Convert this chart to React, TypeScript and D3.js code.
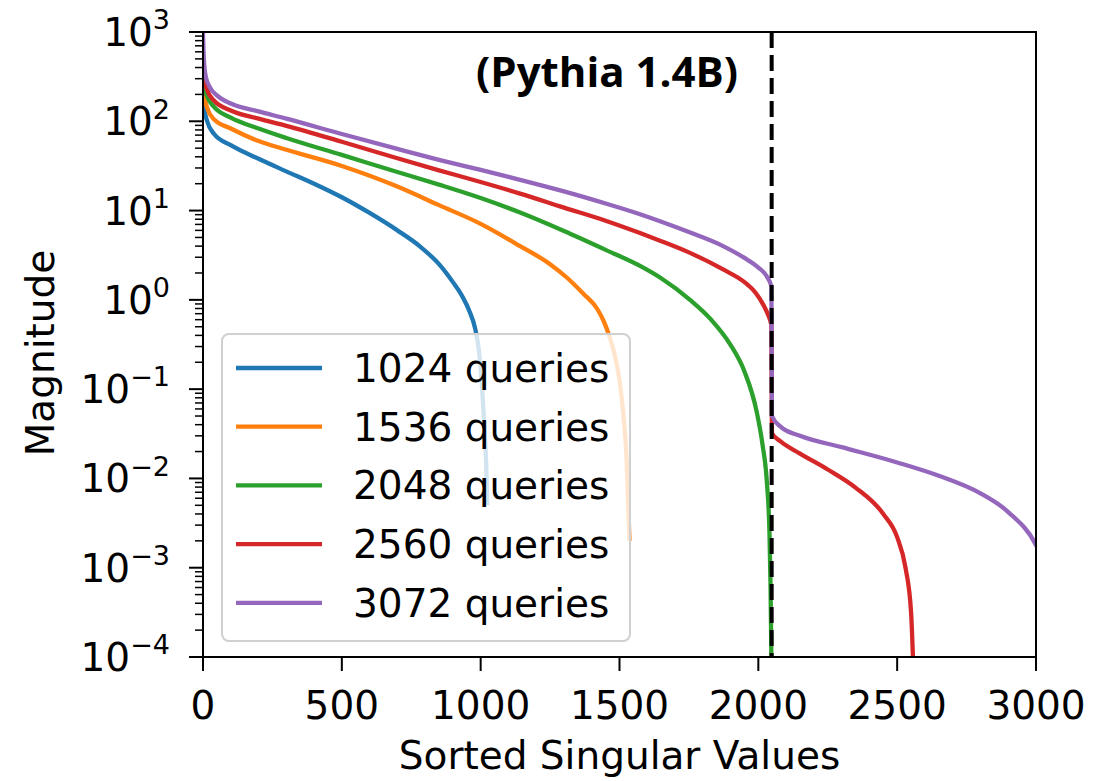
import * as d3 from 'd3';

type Pt = [number, number];

// sorted singular values (index, magnitude)
const q1024: Pt[] = [
  [0, 251], [5, 141], [15, 100], [40, 72], [100, 54], [200, 38], [300, 27.5], [400, 20],
  [500, 14.1], [600, 9.4], [700, 6.0], [780, 4.0], [850, 2.51], [900, 1.58], [930, 1.15],
  [960, 0.74], [980, 0.48], [995, 0.25], [1005, 0.105], [1013, 0.04], [1020, 0.0141],
  [1024, 0.005],
];
const q1536: Pt[] = [
  [0, 316], [5, 200], [15, 141], [40, 105], [100, 83], [200, 60], [300, 48], [500, 31.6],
  [700, 18.6], [850, 11.5], [1000, 7.1], [1142, 4.0], [1250, 2.51], [1310, 1.78], [1370, 1.17],
  [1420, 0.79], [1445, 0.56], [1465, 0.38], [1480, 0.263], [1500, 0.126], [1513, 0.056],
  [1525, 0.0178], [1536, 0.002],
];
const q2048: Pt[] = [
  [0, 400], [5, 251], [15, 190], [40, 145], [100, 110], [200, 83], [300, 65], [500, 42],
  [700, 27], [850, 19.5], [1000, 13.8], [1142, 9.5], [1300, 5.9], [1450, 3.63], [1574, 2.4],
  [1646, 1.78], [1754, 1.0], [1830, 0.6], [1898, 0.32], [1950, 0.158], [1994, 0.056],
  [2015, 0.024], [2031, 0.0089], [2040, 0.0025], [2044, 0.00063], [2048, 0.00005],
];
const q2560: Pt[] = [
  [0, 500], [5, 316], [15, 224], [40, 170], [100, 132], [200, 107], [300, 89], [500, 59],
  [700, 38.5], [850, 28.2], [1000, 20.9], [1142, 15.5], [1300, 10.8], [1450, 7.7], [1574, 5.6],
  [1646, 4.6], [1750, 3.4], [1873, 2.19], [1950, 1.58], [1990, 1.2], [2017, 0.89], [2035, 0.68],
  [2047, 0.52], [2049, 0.032], [2080, 0.026], [2150, 0.019], [2250, 0.0126], [2350, 0.0079],
  [2450, 0.004], [2500, 0.0022], [2530, 0.001], [2550, 0.00032], [2560, 0.00005],
];
const q3072: Pt[] = [
  [0, 1000], [3, 500], [10, 316], [25, 240], [50, 195], [100, 158], [200, 129], [300, 107],
  [500, 72], [700, 49], [850, 37], [1000, 28.5], [1142, 22.1], [1300, 16.4], [1450, 12.0],
  [1574, 9.1], [1646, 7.6], [1750, 5.75], [1873, 4.0], [1950, 2.95], [2000, 2.3], [2031, 1.82],
  [2047, 1.41], [2049, 0.05], [2080, 0.038], [2150, 0.03], [2300, 0.0224], [2500, 0.0151],
  [2650, 0.0107], [2800, 0.0068], [2900, 0.0042], [3000, 0.0018], [3072, 0.0005],
];

const labels = ['1024 queries', '1536 queries', '2048 queries', '2560 queries', '3072 queries'];
const colors = ['#1f77b4', '#ff7f0e', '#2ca02c', '#d62728', '#9467bd'];
const seriesData = [q1024, q1536, q2048, q2560, q3072];

const xTicks = [0, 500, 1000, 1500, 2000, 2500, 3000];
const yExps = [3, 2, 1, 0, -1, -2, -3, -4];
const cutoff = 2048;

const W = 1112;
const H = 781;
const margin = { top: 32, right: 76, bottom: 124, left: 203 };
const font = 'DejaVu Sans, sans-serif';
const fs = 39;

export default function App() {
  const innerW = W - margin.left - margin.right;
  const innerH = H - margin.top - margin.bottom;
  const x = d3.scaleLinear().domain([0, 3000]).range([0, innerW]);
  const y = d3.scaleLog().domain([1e-4, 1e3]).range([innerH, 0]);

  const line = d3
    .line<Pt>()
    .x((d) => x(d[0]))
    .y((d) => y(d[1]))
    .curve(d3.curveMonotoneX);

  // minor ticks 2..9 per decade
  const minor: number[] = [];
  for (let e = -4; e < 3; e++) {
    for (let m = 2; m < 10; m++) minor.push(m * Math.pow(10, e));
  }

  const legendX = 222 - margin.left;
  const legendY = 334 - margin.top;
  const rowH = 58.7;

  return (
    <svg width={W} height={H} style={{ position: 'absolute', left: 0, top: 0, background: '#fff' }}>
      <defs>
        <clipPath id="plot">
          <rect x={0} y={0} width={innerW} height={innerH} />
        </clipPath>
      </defs>
      <g transform={`translate(${margin.left},${margin.top})`}>
        <g clipPath="url(#plot)">
          {seriesData.map((s, i) => (
            <path key={i} d={line(s)!} fill="none" stroke={colors[i]} strokeWidth={4.3} />
          ))}
          <line
            x1={x(cutoff)}
            x2={x(cutoff)}
            y1={0}
            y2={innerH}
            stroke="#000"
            strokeWidth={4}
            strokeDasharray="16 7"
          />
        </g>

        {/* title */}
        <text
          x={607 - margin.left}
          y={55}
          textAnchor="middle"
          fontFamily="Open Sans, sans-serif"
          fontWeight={700}
          fontSize={42}
        >
          (Pythia 1.4B)
        </text>

        {/* legend */}
        <g transform={`translate(${legendX},${legendY})`}>
          <rect
            width={408}
            height={307}
            rx={7}
            fill="#fff"
            fillOpacity={0.8}
            stroke="#d0d0d0"
            strokeWidth={2}
          />
          {labels.map((lab, i) => (
            <g key={lab} transform={`translate(0,${34 + i * rowH})`}>
              <line x1={14} x2={100} y1={0} y2={0} stroke={colors[i]} strokeWidth={4.3} />
              <text x={131} y={0} dy="0.36em" fontFamily={font} fontSize={fs} fill="#000">
                {lab}
              </text>
            </g>
          ))}
        </g>

        {/* frame */}
        <rect x={0} y={0} width={innerW} height={innerH} fill="none" stroke="#000" strokeWidth={2} />

        {/* x axis */}
        {xTicks.map((t) => (
          <g key={t} transform={`translate(${x(t)},${innerH})`}>
            <line y1={0} y2={14} stroke="#000" strokeWidth={2} />
            <text y={48} textAnchor="middle" fontFamily={font} fontSize={fs} fill="#000" dy="0.36em">
              {t}
            </text>
          </g>
        ))}
        <text
          x={innerW / 2}
          y={innerH + 98}
          textAnchor="middle"
          fontFamily={font}
          fontSize={fs}
          dy="0.36em"
        >
          Sorted Singular Values
        </text>

        {/* y axis */}
        {minor.map((m) => (
          <line key={m} x1={-8} x2={0} y1={y(m)} y2={y(m)} stroke="#000" strokeWidth={1.5} />
        ))}
        {yExps.map((e) => (
          <g key={e} transform={`translate(0,${y(Math.pow(10, e))})`}>
            <line x1={-14} x2={0} stroke="#000" strokeWidth={2} />
            <text x={-33} textAnchor="end" fontFamily={font} fontSize={fs} fill="#000" dy="0.36em">
              10
              <tspan dy="-0.62em" fontSize={27}>
                {e < 0 ? `\u2212${-e}` : e}
              </tspan>
            </text>
          </g>
        ))}
        <text
          transform={`translate(${40 - margin.left},${353 - margin.top}) rotate(-90)`}
          textAnchor="middle"
          fontFamily={font}
          fontSize={fs}
          dy="0.36em"
        >
          Magnitude
        </text>
      </g>
    </svg>
  );
}
